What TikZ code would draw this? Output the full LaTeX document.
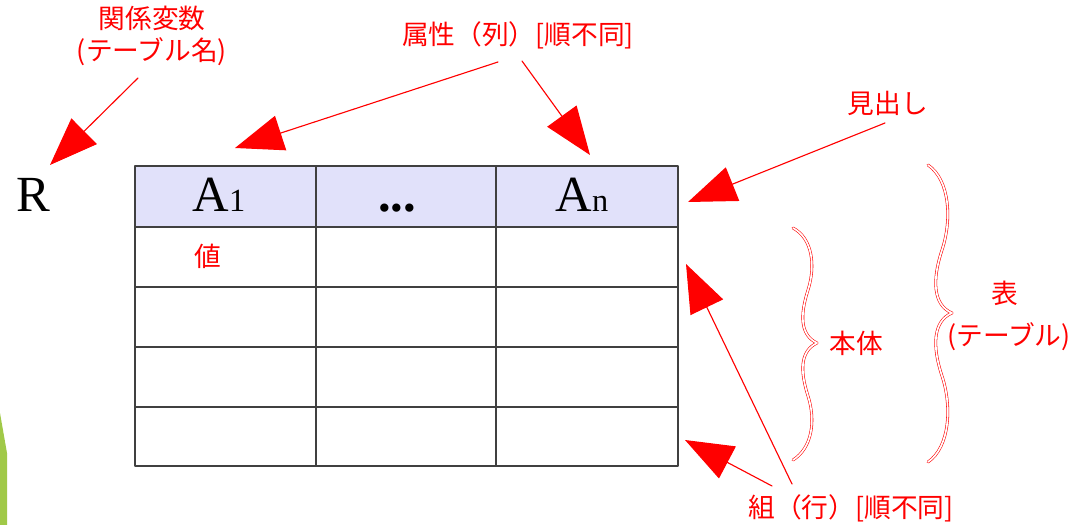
\documentclass[tikz,border=0pt]{standalone}
\usepackage{fontspec}
\setmainfont{Liberation Serif}
\newfontfamily\jp{Noto Sans CJK JP}
\usetikzlibrary{arrows.meta}
\definecolor{headblue}{RGB}{225,225,250}
\definecolor{slidegreen}{RGB}{160,201,72}
\begin{document}
\begin{tikzpicture}[x=0.025cm, y=-0.025cm, line join=round, line cap=round,
  lbl/.style={text=red, font=\jp\fontsize{19}{22.7}\selectfont, inner sep=0pt, align=center},
  big/.style={font=\fontsize{36}{38}\selectfont, inner sep=0pt, anchor=base},
  ptr/.style={red, line width=0.8pt, -{Triangle[length=1.2cm, width=0.9cm]}},
  brc/.style={red, line width=0.4pt, double=white, double distance=1.2pt},
  cellline/.style={black!75, line width=1pt}]
\useasboundingbox (0,0) rectangle (1074,525);
\fill[slidegreen] (0,413) -- (7,453) -- (7,525) -- (0,525) -- cycle;
\fill[headblue] (135,166) rectangle (678,227);
\foreach \y in {227,287,347,407} \draw[cellline] (135,\y) -- (678,\y);
\foreach \x in {316,496} \draw[cellline] (\x,166) -- (\x,466);
\draw[cellline] (135,166) rectangle (678,466);
\node[big] (r) at (33,212) {R};
\node[big] (a1) at (219,212) {A{\fontsize{23}{24}\selectfont 1}};
\node[big] (dots) at (397,212) {\textbf{...}};
\node[big] (an) at (582,212) {A{\fontsize{23}{24}\selectfont n}};
\node[lbl] (val) at (208,256) {値};
\node[lbl] (kankei) at (152,36) {関係変数\\(テーブル名)};
\node[lbl] (zokusei) at (518,35) {属性（列）[順不同]};
\node[lbl] (midashi) at (888,103) {見出し};
\node[lbl] (hontai) at (856,343) {本体};
\node[lbl] (hyou) at (1005,293) {表};
\node[lbl] (hyoutb) at (1009,337) {(テーブル)};
\node[lbl] (kumi) at (851,508) {組（行）[順不同]};
\coordinate (kTail) at (138,78);   \coordinate (kTip) at (50,165);
\coordinate (zTailA) at (498,62);  \coordinate (zTipA) at (235,148);
\coordinate (zTailB) at (522,61);  \coordinate (zTipB) at (590,155);
\coordinate (mTail) at (885,123);  \coordinate (mTip) at (688,202);
\coordinate (rTailA) at (792,484); \coordinate (rTipA) at (686,264);
\coordinate (rTailB) at (772,486); \coordinate (rTipB) at (685,440);
\draw[ptr] (kTail) -- (kTip);
\draw[ptr] (zTailA) -- (zTipA);
\draw[ptr] (zTailB) -- (zTipB);
\draw[ptr] (mTail) -- (mTip);
\draw[ptr] (rTailA) -- (rTipA);
\draw[ptr] (rTailB) -- (rTipB);
\draw[brc] (793,228) .. controls (812,238) and (816,265) .. (808,290)
  .. controls (800,315) and (800,335) .. (817,343)
  .. controls (800,351) and (800,371) .. (808,396)
  .. controls (816,421) and (812,448) .. (793,460);
\draw[brc] (928,165) .. controls (950,180) and (952,220) .. (942,250)
  .. controls (932,280) and (933,305) .. (952,313)
  .. controls (933,321) and (932,346) .. (942,376)
  .. controls (952,406) and (950,447) .. (928,462);
\end{tikzpicture}
\end{document}
